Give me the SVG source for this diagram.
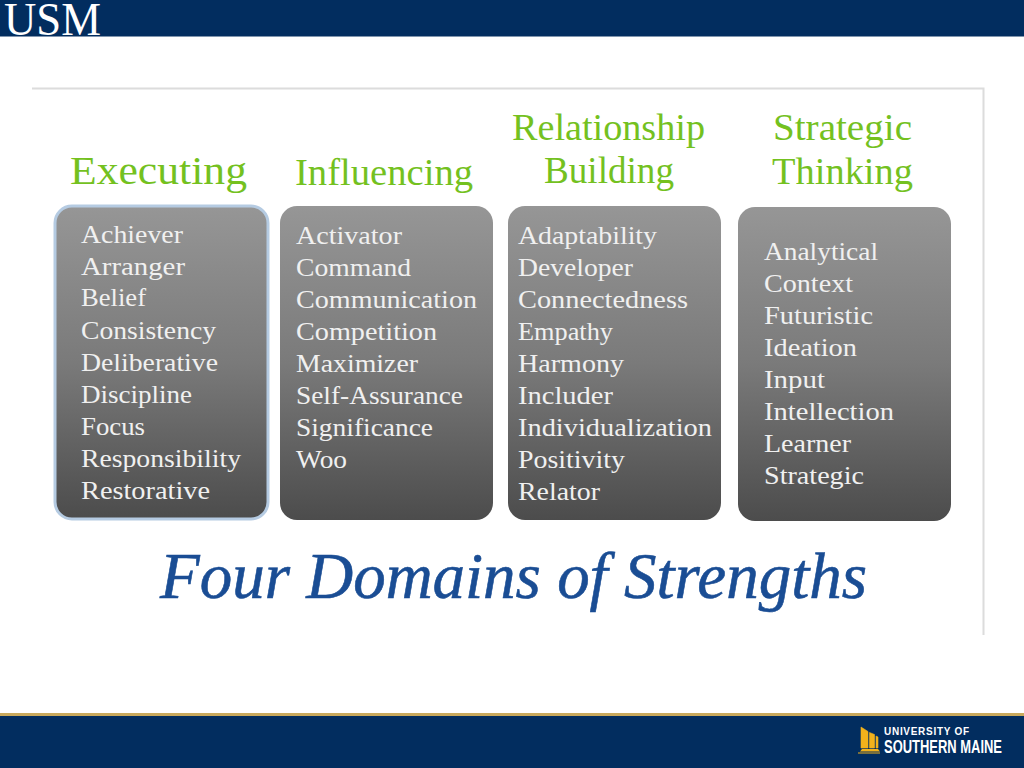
<svg xmlns="http://www.w3.org/2000/svg" width="1024" height="768" viewBox="0 0 1024 768">
<style>
.it{font-family:"Liberation Serif",serif;font-size:26px;fill:#f0f0f0}
.hd{font-family:"Liberation Serif",serif;fill:#74c11f}
.box{fill:url(#g)}
</style>
<defs>
<linearGradient id="g" x1="0" y1="0" x2="0" y2="1"><stop offset="0" stop-color="#969696"/><stop offset="0.5" stop-color="#7a7a7a"/><stop offset="1" stop-color="#4c4c4c"/></linearGradient>
</defs>
<rect width="1024" height="768" fill="#fff"/>
<g id="header"><rect width="1024" height="36.500" fill="#022d5f"/>
<text x="4" y="35" font-family="Liberation Serif,serif" font-size="47" fill="#fff" textLength="97" lengthAdjust="spacingAndGlyphs">USM</text></g>
<path d="M32 88.500H983.500V635" fill="none" stroke="#dcdcdc" stroke-width="2"/>
<g id="executing">
<text class="hd" x="70" y="184" font-size="41" textLength="177" lengthAdjust="spacingAndGlyphs">Executing</text>
<rect class="box" x="55" y="206" width="213" height="313" rx="17" stroke="#b5cbe2" stroke-width="3"/>
<g class="it">
<text x="81" y="243" textLength="102" lengthAdjust="spacingAndGlyphs">Achiever</text>
<text x="81" y="275" textLength="104" lengthAdjust="spacingAndGlyphs">Arranger</text>
<text x="81" y="306" textLength="65" lengthAdjust="spacingAndGlyphs">Belief</text>
<text x="81" y="339" textLength="135" lengthAdjust="spacingAndGlyphs">Consistency</text>
<text x="81" y="371" textLength="137" lengthAdjust="spacingAndGlyphs">Deliberative</text>
<text x="81" y="403" textLength="111" lengthAdjust="spacingAndGlyphs">Discipline</text>
<text x="81" y="435" textLength="64" lengthAdjust="spacingAndGlyphs">Focus</text>
<text x="81" y="467" textLength="160" lengthAdjust="spacingAndGlyphs">Responsibility</text>
<text x="81" y="499" textLength="129" lengthAdjust="spacingAndGlyphs">Restorative</text>
</g></g>
<g id="influencing">
<text class="hd" x="295" y="185" font-size="37" textLength="178" lengthAdjust="spacingAndGlyphs">Influencing</text>
<rect class="box" x="280" y="206" width="213" height="314" rx="17"/>
<g class="it">
<text x="296" y="244" textLength="106" lengthAdjust="spacingAndGlyphs">Activator</text>
<text x="296" y="276" textLength="115" lengthAdjust="spacingAndGlyphs">Command</text>
<text x="296" y="308" textLength="181" lengthAdjust="spacingAndGlyphs">Communication</text>
<text x="296" y="340" textLength="141" lengthAdjust="spacingAndGlyphs">Competition</text>
<text x="296" y="372" textLength="122" lengthAdjust="spacingAndGlyphs">Maximizer</text>
<text x="296" y="404" textLength="167" lengthAdjust="spacingAndGlyphs">Self-Assurance</text>
<text x="296" y="436" textLength="137" lengthAdjust="spacingAndGlyphs">Significance</text>
<text x="296" y="468" textLength="51" lengthAdjust="spacingAndGlyphs">Woo</text>
</g></g>
<g id="relationship">
<text class="hd" x="512" y="140" font-size="37" textLength="193" lengthAdjust="spacingAndGlyphs">Relationship</text>
<text class="hd" x="544" y="183" font-size="37" textLength="130" lengthAdjust="spacingAndGlyphs">Building</text>
<rect class="box" x="508" y="206" width="213" height="314" rx="17"/>
<g class="it">
<text x="518" y="244" textLength="139" lengthAdjust="spacingAndGlyphs">Adaptability</text>
<text x="518" y="276" textLength="115" lengthAdjust="spacingAndGlyphs">Developer</text>
<text x="518" y="308" textLength="170" lengthAdjust="spacingAndGlyphs">Connectedness</text>
<text x="518" y="340" textLength="95" lengthAdjust="spacingAndGlyphs">Empathy</text>
<text x="518" y="372" textLength="106" lengthAdjust="spacingAndGlyphs">Harmony</text>
<text x="518" y="404" textLength="95" lengthAdjust="spacingAndGlyphs">Includer</text>
<text x="518" y="436" textLength="194" lengthAdjust="spacingAndGlyphs">Individualization</text>
<text x="518" y="468" textLength="107" lengthAdjust="spacingAndGlyphs">Positivity</text>
<text x="518" y="500" textLength="82" lengthAdjust="spacingAndGlyphs">Relator</text>
</g></g>
<g id="strategic">
<text class="hd" x="773" y="140" font-size="37" textLength="139" lengthAdjust="spacingAndGlyphs">Strategic</text>
<text class="hd" x="772" y="184" font-size="37" textLength="141" lengthAdjust="spacingAndGlyphs">Thinking</text>
<rect class="box" x="738" y="207" width="213" height="314" rx="17"/>
<g class="it">
<text x="764" y="260" textLength="114" lengthAdjust="spacingAndGlyphs">Analytical</text>
<text x="764" y="292" textLength="89" lengthAdjust="spacingAndGlyphs">Context</text>
<text x="764" y="324" textLength="109" lengthAdjust="spacingAndGlyphs">Futuristic</text>
<text x="764" y="356" textLength="93" lengthAdjust="spacingAndGlyphs">Ideation</text>
<text x="764" y="388" textLength="61" lengthAdjust="spacingAndGlyphs">Input</text>
<text x="764" y="420" textLength="130" lengthAdjust="spacingAndGlyphs">Intellection</text>
<text x="764" y="452" textLength="87" lengthAdjust="spacingAndGlyphs">Learner</text>
<text x="764" y="484" textLength="100" lengthAdjust="spacingAndGlyphs">Strategic</text>
</g></g>
<text id="title" x="160" y="598" font-family="Liberation Serif,serif" font-style="italic" font-size="66" fill="#1a4d94" stroke="#1a4d94" stroke-width="0.6" textLength="707" lengthAdjust="spacingAndGlyphs">Four Domains of Strengths</text>
<g id="footer">
<rect y="714" width="1024" height="54" fill="#022d5f"/>
<rect y="713" width="1024" height="3" fill="#c9a95c"/>
<path d="M861 727L868 731.500V748H861Z M869.500 732.500L874.500 734.500V748H869.500Z M876 736L878 737L878 748H876Z" fill="#f2b21b" stroke="#f2b21b" stroke-width="0.6"/>
<path d="M862 749H878L880 751.500H860Z M858 752.500H880V753.500H858Z" fill="#f2b21b"/>
<text x="884" y="735" font-family="Liberation Sans,sans-serif" font-weight="700" font-size="10" fill="#fff" textLength="85" lengthAdjust="spacing">UNIVERSITY OF</text>
<text x="884" y="752.500" font-family="Liberation Sans,sans-serif" font-weight="700" font-size="17.500" fill="#fff" textLength="118" lengthAdjust="spacingAndGlyphs">SOUTHERN MAINE</text>
</g>
</svg>
